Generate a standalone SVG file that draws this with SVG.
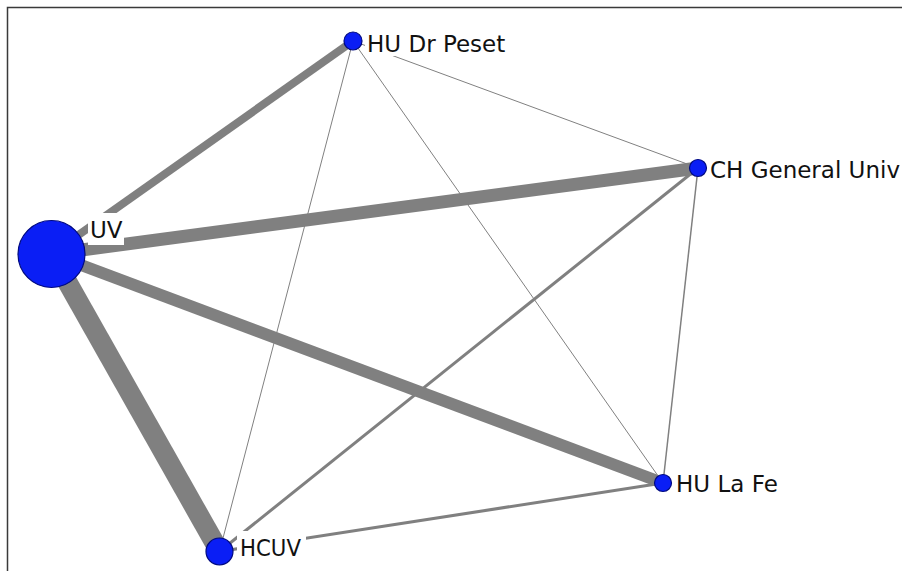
<svg xmlns="http://www.w3.org/2000/svg" width="902" height="571" viewBox="0 0 902 571">
<style>
.e{stroke:#808080;fill:none;stroke-linecap:butt}
.n{fill:#0a1ef5;stroke:#000a80;stroke-width:1.2}
.lb{fill:#ffffff}
.t{font-family:"DejaVu Sans",Verdana,sans-serif;font-size:23px;fill:#111111}
</style>
<rect width="902" height="571" fill="#ffffff"/>
<path d="M7.5,571 V7.5 H902" stroke="#3a3a3a" stroke-width="1.5" fill="none"/>
<g id="connectors">
<line class="e" x1="51.5" y1="254" x2="219.5" y2="551.5" stroke-width="20"/>
<line class="e" x1="51.5" y1="254" x2="698" y2="168" stroke-width="13"/>
<line class="e" x1="51.5" y1="254" x2="663" y2="483" stroke-width="12"/>
<line class="e" x1="51.5" y1="254" x2="353" y2="41" stroke-width="8"/>
<line class="e" x1="698" y1="168" x2="219.5" y2="551.5" stroke-width="3"/>
<line class="e" x1="663" y1="483" x2="219.5" y2="551.5" stroke-width="3"/>
<line class="e" x1="698" y1="168" x2="663" y2="483" stroke-width="1.5"/>
<line class="e" x1="353" y1="41" x2="698" y2="168" stroke-width="1"/>
<line class="e" x1="353" y1="41" x2="219.5" y2="551.5" stroke-width="1"/>
<line class="e" x1="353" y1="41" x2="663" y2="483" stroke-width="1"/>
</g>
<g id="node-UV">
<rect class="lb" x="88" y="213" width="36" height="32"/>
<circle class="n" cx="51.5" cy="254" r="33.5"/>
<text class="t" x="90" y="238">UV</text>
</g>
<g id="node-HUDrPeset">
<rect class="lb" x="365" y="28" width="146" height="28"/>
<circle class="n" cx="353" cy="41" r="9"/>
<text class="t" x="367" y="52">HU Dr Peset</text>
</g>
<g id="node-CHGeneralUniv">
<rect class="lb" x="708" y="155" width="194" height="28"/>
<circle class="n" cx="698" cy="168" r="8.5"/>
<text class="t" x="710" y="178">CH General Univ</text>
</g>
<g id="node-HULaFe">
<rect class="lb" x="674" y="469" width="108" height="28"/>
<circle class="n" cx="663" cy="483" r="8.5"/>
<text class="t" x="676" y="492">HU La Fe</text>
</g>
<g id="node-HCUV">
<rect class="lb" x="237" y="531" width="69" height="34"/>
<circle class="n" cx="219.5" cy="551.5" r="13.5"/>
<text class="t" x="240" y="556" textLength="61" lengthAdjust="spacingAndGlyphs">HCUV</text>
</g>
</svg>
